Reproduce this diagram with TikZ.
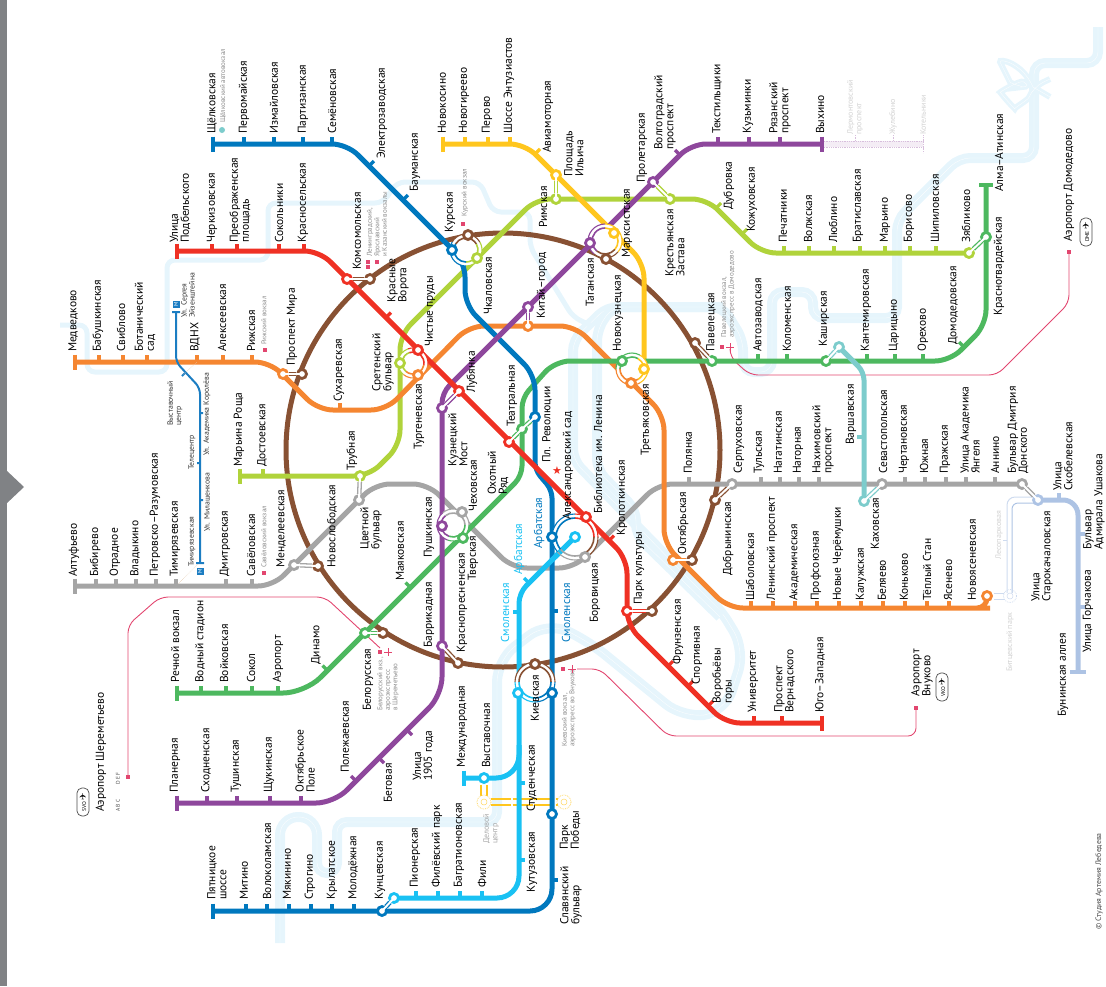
\documentclass[tikz,border=0pt]{standalone}
\usepackage{fontspec}
\setmainfont{PT Sans}
\newfontfamily\symfont{DejaVu Sans}
\usepackage{xcolor}
\definecolor{linered}{HTML}{EF3124}
\definecolor{lineblue}{HTML}{0078BE}
\definecolor{linecyan}{HTML}{19C1F3}
\definecolor{lineorange}{HTML}{F58631}
\definecolor{linegreen}{HTML}{4DB85F}
\definecolor{linepurple}{HTML}{8E479C}
\definecolor{lineyellow}{HTML}{FFC61E}
\definecolor{linelime}{HTML}{B0D33B}
\definecolor{linegray}{HTML}{A5A5A5}
\definecolor{linebrown}{HTML}{885133}
\definecolor{lineteal}{HTML}{7DCCCC}
\definecolor{linebuto}{HTML}{ADC3E4}
\definecolor{monoblue}{HTML}{1C7DC2}
\definecolor{riverblue}{HTML}{E6F5FC}
\definecolor{airpink}{HTML}{E2466F}
\definecolor{palegray}{HTML}{D2D2D2}
\definecolor{notegray}{HTML}{8C8C8C}
\definecolor{edgegray}{HTML}{808285}
\usepackage{tikz}
\usetikzlibrary{shapes.geometric, shapes.misc, positioning}
\tikzset{
    metro/.style = {line width=5pt, rounded corners=15pt},
    tickmark/.style = {line width=3.2pt},
    endbar/.style = {line width=4.4pt},
    stn/.style = {circle, draw=#1, fill=white, line width=2.8pt,
                  minimum size=9pt, inner sep=0pt},
    xferedge/.style = {draw=#1, line width=4.6pt},
    xfercore/.style = {draw=white, line width=2pt},
    river/.style = {draw=riverblue, line width=10pt, rounded corners=11pt,
                    postaction={draw=white, line width=0.4pt, opacity=0.8}},
    brook/.style = {draw=riverblue, line width=5pt, rounded corners=8pt},
    airline/.style = {draw=airpink, line width=0.9pt, rounded corners=8pt},
    stlabel/.style = {rotate=90, anchor=west, inner sep=0pt, align=left,
                      font=\fontsize{11.5}{11}\selectfont},
    notelabel/.style = {rotate=90, anchor=west, inner sep=0pt, align=left,
                        text=notegray, font=\fontsize{7}{7.5}\selectfont},
    monolabel/.style = {rotate=90, anchor=west, inner sep=0pt, align=left,
                        text=black!80, font=\fontsize{7.7}{8}\selectfont},
    palelabel/.style = {rotate=90, anchor=west, inner sep=0pt, align=left,
                        text=palegray, font=\fontsize{8}{8.5}\selectfont},
    railmark/.style = {fill=airpink, inner sep=0pt, minimum width=4pt, minimum height=3.5pt},
    planemark/.style = {cross out, draw=airpink, rotate=45, line width=0.8pt,
                        inner sep=0pt, minimum size=4.5pt},
    badge/.style = {rotate=90, draw=black!70, fill=white, rounded corners=5pt, line width=0.7pt,
                    inner sep=0pt, minimum width=28pt, minimum height=12pt,
                    font=\fontsize{5.5}{5.5}\selectfont},
    metrosq/.style = {rotate=90, fill=monoblue, text=white, inner sep=0pt, minimum size=7pt,
                      font=\fontsize{5.5}{5.5}\selectfont},
}
\begin{document}
\begin{tikzpicture}[x=1pt, y=-1pt]
  \useasboundingbox (0,0) rectangle (1106,986);
  % Page edge and arrow
  \fill[edgegray] (0,0) rectangle (7,986);
  \fill[edgegray] (6,470) -- (24,487) -- (6,504) -- cycle;
  % Rivers
  \draw[river] (1098,27) -- (1098,63) -- (1034,63) -- (1034,158) -- (959,158) -- (897,220)
        -- (897,318) -- (813,318) -- (813,292) -- (772,292) -- (772,372) -- (743,372)
        -- (743,340) -- (723,307) -- (607,307) -- (573,340) -- (573,460) -- (680,570)
        -- (722,612) [rounded corners=22pt] -- (745,650) -- (725,712) -- (683,718)
        -- (587,640) -- (547,622) -- (497,660) [rounded corners=10pt] -- (497,822)
        -- (337,822) -- (337,873) -- (317,873) [rounded corners=18pt] -- (317,817)
        -- (280,817) -- (280,943);
  \draw[river] (723,307) -- (612,307) -- (597,330) -- (597,470) -- (636,510) -- (636,535) -- (720,617);
  \draw[brook] (60,325) -- (87,325) -- (87,372) -- (167,372) -- (167,260) -- (268,260)
        -- (268,203) -- (383,203) -- (397,182) -- (480,182) -- (493,212) -- (530,212)
        -- (530,247) -- (573,317) -- (590,325);
  % Bow on the river
  \draw[river, line width=6pt] (1033,87) .. controls (1022,62) and (998,58) .. (1005,72)
        .. controls (1011,84) and (1025,87) .. (1033,87)
        .. controls (1020,80) and (1000,92) .. (1007,101)
        .. controls (1014,108) and (1028,100) .. (1033,87) -- (1050,79) (1033,87) -- (1050,97);
  % Airport lines
  \draw[airline] (128,777) -- (128,625) -- (160,597) -- (325,597) -- (380,648);
  \draw[airline] (1069,252) -- (1069,303) -- (997,375) -- (750,375) -- (730,357) -- (730,350);
  \draw[airline] (916,708) -- (916,736) -- (668,736) -- (600,669) -- (577,669);
  % Ring line
  \draw[line width=5pt, linebrown] (503,450) circle (217);
  % Lines under construction
  \fill[linepurple!10] (822,141) rectangle (923,147);
  \draw[linepurple!35, densely dotted, line width=0.8pt] (822,141) -- (923,141) (822,147) -- (923,147)
        (855,141) -- (855,135) (893,141) -- (893,135) (923,135) -- (923,153);
  \draw[linebuto!60, line width=1pt, rounded corners=8pt] (1037,497) -- (1007,497) -- (1007,593);
  \draw[linebuto, line width=1pt, rounded corners=6pt] (1037,503) -- (1012,503) -- (1012,593);
  \draw[linebuto!60, line width=1pt] (1007,540) -- (1003,540) (994,593) -- (1004,593) (994,599) -- (1004,599);
  \draw[linebuto!60, densely dotted, line width=0.8pt] (1010,596) circle (6.5);
  \draw[linebuto!60, line width=0.5pt] (1010,596) circle (3);
  \draw[lineyellow, line width=1.2pt] (481,785) -- (481,796) (487,785) -- (487,796);
  \draw[lineyellow, line width=1.3pt, dash pattern=on 20pt off 1.5pt] (491,799) -- (558,799) (491,805) -- (558,805);
  \draw[lineyellow!70, densely dotted, line width=0.8pt] (484,802) circle (7) (564,802) circle (7);
  \draw[lineyellow!70, line width=0.5pt] (484,802) circle (3) (564,802) circle (3);
  % Main lines
  \draw[metro, linegray] (75,586) -- (273,586) -- (375,484) -- (428,484) -- (512,568) -- (574,568) -- (658,484) -- (1022,484);
  \draw[metro, linelime] (240,476) -- (369,476) -- (400,445) -- (400,335) -- (536,199) -- (707,199) -- (761,253) -- (969,253);
  \draw[metro, lineorange] (75,362) -- (270,362) -- (318,410) -- (386,410) -- (469,326) -- (575,326) -- (664,415)
        -- (664,544) -- (728,608) -- (975,608) [rounded corners=10pt] -- (987,608) -- (987,596);
  \draw[metro, lineyellow] (443,144) -- (525,144) -- (644,263) -- (644,369);
  \draw[metro, linegreen] (177,693) [rounded corners=22pt] -- (305,693) [rounded corners=10pt] -- (522,476)
        -- (522,398) [rounded corners=15pt] -- (555,361) -- (950,361) -- (986,325) -- (986,185);
  \draw[metro, lineblue] (213,144) -- (347,144) -- (465,262) -- (465,305) -- (535,375)
        [rounded corners=8pt] -- (535,470) -- (552,490) [rounded corners=22pt] -- (552,911) -- (213,911);
  \draw[metro, linecyan] (394,898) [rounded corners=22pt] -- (519,898) [rounded corners=10pt] -- (519,593) -- (575,537);
  \draw[metro, linecyan] (464,778) [rounded corners=23pt] -- (519,778) -- (519,745);
  \draw[metro, linepurple] (177,803) [rounded corners=18pt] -- (334,803) -- (442,695) [rounded corners=10pt] -- (442,393) [rounded corners=15pt] -- (691,144) -- (822,144);
  \draw[metro, lineteal, rounded corners=8pt] (839,347) -- (864,372) -- (864,501);
  \draw[metro, linebuto] (1038,500) -- (1078,500) -- (1078,672);
  \draw[metro, linered] (177,251) -- (319.5,251) -- (627,558.5) -- (627,625) -- (725,723) -- (822,723);
  % Monorail
  \draw[monoblue, line width=2pt, rounded corners=6pt] (176,312) -- (176,362) -- (200,388) -- (200,563);
  \draw[monoblue, line width=2pt] (172,312) -- (180,312) (196,563) -- (204,563)
        (182,376) -- (185,373) (200,413) -- (203,413) (197,463) -- (200,463) (200,500) -- (203,500);
  \draw[brown!40, line width=0.5pt, densely dotted] (176,586) -- (198,564) (183,375) -- (197,362);
  % End bars
  \foreach \x/\y/\col in {213/144/lineblue, 177/251/linered, 75/362/lineorange, 75/586/linegray, 240/476/linelime,
        177/693/linegreen, 177/803/linepurple, 213/911/lineblue, 443/144/lineyellow, 822/144/linepurple,
        822/723/linered, 464/778/linecyan}
    \draw[endbar, \col] (\x,\y-7.5) -- (\x,\y+7.5);
  \draw[endbar, linegreen] (979,185) -- (993,185);
  \draw[endbar, linebuto] (1070,672) -- (1086,672);
  % Stations along rows: tick x / label x / name
  \foreach[count=\i] \tx/\lx/\stname in {244/244/Первомайская, 274/274/Измайловская, 303/303/Партизанская, 332/332/Семёновская, 213/212/Щёлковская}
    {\draw[tickmark, lineblue] (\tx,144) -- ++(0,-7);
     \node[stlabel] (blab\i) at (\lx,134) {\stname};}
  \foreach[count=\i] \tx/\lx/\stname in {177/180/Улица\\Подбельского, 212/212/Черкизовская, 237/240/Преображенская\\площадь, 279/279/Сокольники, 304/303/Красносельская}
    {\draw[tickmark, linered] (\tx,251) -- ++(0,-7);
     \node[stlabel] (rlab\i) at (\lx,243) {\stname};}
  \foreach[count=\i] \tx/\lx/\stname in {75/73/Медведково, 99/98/Бабушкинская, 123/121/Свиблово, 147/145/Ботанический\\сад, 197/195/ВДНХ, 223/222/Алексеевская, 252/251/Рижская}
    {\draw[tickmark, lineorange] (\tx,362) -- ++(0,-7);
     \node[stlabel] (olab\i) at (\lx,352) {\stname};}
  \foreach[count=\i] \tx/\lx/\stname in {75/74/Алтуфьево, 96/95/Бибирево, 116/115/Отрадное, 136/135/Владыкино, 156/155/Петровско–Разумовская, 176/175/Тимирязевская, 226/225/Дмитровская, 252/251/Савёловская}
    {\draw[tickmark, linegray] (\tx,586) -- ++(0,-7);
     \node[stlabel] (glab\i) at (\lx,577) {\stname};}
  \foreach[count=\i] \tx/\lx/\stname in {177/175/Речной вокзал, 201/200/Водный стадион, 226/224/Войковская, 252/251/Сокол, 278/278/Аэропорт}
    {\draw[tickmark, linegreen] (\tx,693) -- ++(0,-7);
     \node[stlabel] (nlab\i) at (\lx,683) {\stname};}
  \foreach[count=\i] \tx/\lx/\stname in {177/175/Планерная, 207/206/Сходненская, 237/236/Тушинская, 270/269/Щукинская, 301/305/Октябрьское\\Поле}
    {\draw[tickmark, linepurple] (\tx,803) -- ++(0,-7);
     \node[stlabel] (plab\i) at (\lx,793) {\stname};}
  \foreach[count=\i] \tx/\lx/\stname in {213/217/Пятницкое\\шоссе, 246/244/Митино, 267/267/Волоколамская, 289/287/Мякинино, 311/310/Строгино, 332/332/Крылатское, 354/353/Молодёжная}
    {\draw[tickmark, lineblue] (\tx,911) -- ++(0,-7);
     \node[stlabel] (blow\i) at (\lx,900) {\stname};}
  \foreach[count=\i] \tx/\lx/\stname in {416/415/Пионерская, 438/437/Филёвский парк, 460/459/Багратионовская, 482/482/Фили}
    {\draw[tickmark, linecyan] (\tx,898) -- ++(0,-7);
     \node[stlabel] (clab\i) at (\lx,888) {\stname};}
  \foreach[count=\i] \tx/\lx/\stname in {443/442/Новокосино, 465/464/Новогиреево, 488/487/Перово, 510/509/Шоссе Энтузиастов}
    {\draw[tickmark, lineyellow] (\tx,144) -- ++(0,-7);
     \node[stlabel] (ylab\i) at (\lx,134) {\stname};}
  \foreach[count=\i] \tx/\lx/\stname in {718/717/Текстильщики, 749/748/Кузьминки, 780/780/Рязанский\\проспект, 822/820/Выхино}
    {\draw[tickmark, linepurple] (\tx,144) -- ++(0,-7);
     \node[stlabel] (pup\i) at (\lx,134) {\stname};}
  \foreach[count=\i] \tx/\lx/\stname in {784/783/Печатники, 809/808/Волжская, 834/833/Люблино, 860/858/Братиславская, 885/885/Марьино, 910/909/Борисово, 936/935/Шипиловская}
    {\draw[tickmark, linelime] (\tx,253) -- ++(0,-7);
     \node[stlabel] (llab\i) at (\lx,243) {\stname};}
  \foreach[count=\i] \tx/\lx/\stname in {758/758/Автозаводская, 787/787/Коломенская, 867/866/Кантемировская, 895/894/Царицыно, 923/923/Орехово}
    {\draw[tickmark, linegreen] (\tx,361) -- ++(0,-7);
     \node[stlabel] (nup\i) at (\lx,352) {\stname};}
  \foreach[count=\i] \tx/\lx/\stname in {689/688/Полянка, 761/759/Тульская, 780/778/Нагатинская, 799/798/Нагорная, 819/823/Нахимовский\\проспект, 905/904/Чертановская, 925/924/Южная, 946/945/Пражская, 966/970/Улица Академика\\Янгеля, 995/995/Аннино}
    {\draw[tickmark, linegray] (\tx,484) -- ++(0,-7);
     \node[stlabel] (gup\i) at (\lx,474) {\stname};}
  \foreach[count=\i] \tx/\lx/\stname in {751/750/Шаболовская, 773/772/Ленинский проспект, 795/794/Академическая, 817/816/Профсоюзная, 839/838/Новые Черёмушки, 861/861/Калужская, 883/882/Беляево, 905/904/Коньково, 927/927/Тёплый Стан, 949/948/Ясенево}
    {\draw[tickmark, lineorange] (\tx,608) -- ++(0,-7);
     \node[stlabel] (olow\i) at (\lx,601) {\stname};}
  \foreach[count=\i] \tx/\lx/\stname in {754/753/Университет, 782/785/Проспект\\Вернадского, 822/820/Юго–Западная}
    {\draw[tickmark, linered] (\tx,723) -- ++(0,-7);
     \node[stlabel] (rlow\i) at (\lx,713) {\stname};}
  % Diagonal and side ticks: x / y / dx / dy / colour
  \foreach \x/\y/\dx/\dy/\col in {369/166/5/-5/lineblue, 403/200/5/-5/lineblue, 386/317.5/5/-5/linered, 609/540.5/5/-5/linered,
        668/666/5/-5/linered, 688/686/5/-5/linered, 708/706/5/-5/linered, 535/154/5/-5/lineyellow,
        716/208/5/-5/linelime, 742/234/5/-5/linelime, 410.5/587.5/-5/-5/linegreen, 327.5/670.5/-5/-5/linegreen,
        964/347/-5/-5/linegreen, 356/781/-5/-5/linepurple, 379/758/5/5/linepurple, 407/730/5/5/linepurple,
        680/155/-5/-5/linepurple, 529/583/-5/-5/linecyan, 519/612/-6/0/linecyan, 519/783/6/0/linecyan,
        519/860/6/0/linecyan, 552/611/6/0/lineblue, 552/880/6/0/lineblue, 864/437/-7/0/lineteal,
        1078/534/7/0/linebuto, 1078/607/7/0/linebuto, 1059/500/0/-7/linebuto, 340/410/0/-7/lineorange, 263/476/0/-7/linelime}
    \draw[tickmark, \col] (\x,\y) -- ++(\dx,\dy);
  % Hubs: centre / radius
  \foreach \cx/\cy/\cr in {466/250/16, 605/241/17, 413/363/15, 453/525/16, 575/537/23, 632/369/16, 535/682/20}
    {\fill[white] (\cx,\cy) circle (\cr);}
  \draw[metro, linecyan] (555,557) -- (575,537);
  % Hub outlines: centre / radius / colour / from / to
  \foreach \cx/\cy/\cr/\col/\a/\b in {466/250/16/linebrown/210/330, 466/250/16/linelime/330/450, 466/250/16/lineblue/90/210,
        605/241/17/linebrown/40/130, 605/241/17/lineyellow/270/400, 605/241/17/linepurple/130/270,
        413/363/15/linered/250/370, 413/363/15/lineorange/10/130, 413/363/15/linelime/130/250,
        453/525/16/linegray/230/360, 453/525/16/linegreen/0/110, 453/525/16/linepurple/110/230,
        575/537/23/linered/270/360, 575/537/23/linebrown/0/60, 575/537/23/linegray/60/140, 575/537/23/lineblue/140/270,
        632/369/16/linegreen/180/300, 632/369/16/lineyellow/300/420, 632/369/16/lineorange/60/180,
        535/682/20/linebrown/180/360, 535/682/20/lineblue/0/90, 535/682/20/linecyan/90/180}
    {\draw[\col, line width=1.1pt] (\cx,\cy) ++(\a:\cr) arc (\a:\b:\cr);
     \draw[\col, line width=1.6pt] (\cx,\cy) ++(\a:\cr-4) arc (\a:\b:\cr-4);}
  % Stations
  \foreach \nm/\x/\y/\col in {komsR/347/279/linered, komsB/370/279/linebrown, mirO/283/374/lineorange, mirB/302/374/linebrown,
        mendG/294/565/linegray, mendB/318/566/linebrown, cvetG/359/500/linegray, trubL/360/476/linelime,
        belN/365/633/linegreen, belB/383/633/linebrown, presB/458/663/linebrown, barrP/442/646/linepurple,
        kuzP/442/408/linepurple, lubR/459/391/linered, ohotR/509/442/linered, teatN/522/429/linegreen, revB/535/417/lineblue,
        kitP/528/307/linepurple, kitO/528/326/lineorange, ilyY/556/175/lineyellow, rimL/556/199/linelime,
        proP/653/182/linepurple, kreL/670/199/linelime, pavB/695/343/linebrown, pavN/712/361/linegreen,
        kasN/826/361/linegreen, kasT/839/347/lineteal, dobB/715/500/linebrown, serG/732/484/linegray,
        oktO/673/560/lineorange, oktB/692/560/linebrown, parR/627/611/linered, parB/652/611/linebrown,
        kahT/864/501/lineteal, sevG/882/484/linegray, kraN/986/237/linegreen, zyaL/969/253/linelime,
        bddG/1022/484/linegray, staB/1038/500/linebuto, kunB/382/911/lineblue, kunC/394/898/linecyan,
        kurB/452/250/lineblue, kurK/468/235/linebrown, kurL/477/258/linelime,
        tagP/590/243/linepurple, tagK/606/259/linebrown, tagY/614/233/lineyellow,
        chiR/418/350/linered, chiL/400/363/linelime, chiO/418/375/lineorange,
        pusP/442/526/linepurple, pusG/462/512/linegray, pusN/463/538/linegreen,
        bibR/586/517/linered, bibC/575/537/linecyan, bibB/552/537/lineblue, bibG/585/557/linegray,
        nkuN/622/361/linegreen, nkuY/644/369/lineyellow, nkuO/631/383/lineorange,
        kieK/535/664/linebrown, kieC/518/693/linecyan, kieB/552/693/lineblue,
        vysC/484/778/linecyan, pobB/552/814/lineblue, novO/987/596/lineorange}
    \node[stn=\col] (\nm) at (\x,\y) {};
  % Transfers
  \foreach \a/\b/\col in {komsR/komsB/linebrown, mirO/mirB/linebrown, mendG/mendB/linegray, cvetG/trubL/linegray,
        belN/belB/linegreen, presB/barrP/linebrown, kuzP/lubR/linepurple, ohotR/teatN/linegreen, teatN/revB/linegreen,
        kitP/kitO/linepurple, ilyY/rimL/linelime, proP/kreL/linelime, pavB/pavN/linebrown, kasN/kasT/lineteal,
        dobB/serG/linebrown, oktO/oktB/lineorange, parR/parB/linered, kahT/sevG/lineteal, kraN/zyaL/linegreen,
        bddG/staB/linegray, kunB/kunC/lineblue}
    {\draw[xferedge=\col] (\a) -- (\b);
     \draw[xfercore] (\a.center) -- (\b.center);}
  % Single labels: x / y / name
  \foreach[count=\i] \x/\y/\stname in {382/159/Электрозаводская, 415/192/Бауманская, 357/270/Комсомольская, 398/303/Красные\\Ворота,
        292/366/Проспект Мира, 339/402/Сухаревская, 383/392/Сретенский\\бульвар, 430/347/Чистые пруды, 419/450/Тургеневская,
        352/471/Трубная, 262/467/Достоевская, 239/467/Марьина Роща, 371/550/Цветной\\бульвар, 400/581/Маяковская,
        332/568/Новослободская, 281/568/Менделеевская, 316/665/Динамо, 368/711/Белорусская, 462/653/Краснопресненская,
        473/581/Тверская, 429/558/Пушкинская, 429/648/Баррикадная, 458/467/Кузнецкий\\Мост, 473/512/Чеховская,
        498/495/Охотный\\Ряд, 472/393/Лубянка, 512/427/Театральная, 547/463/Пл. Революции, 568/520/Александровский сад,
        598/514/Библиотека им. Ленина, 622/536/Кропоткинская, 595/623/Боровицкая, 639/605/Парк культуры,
        683/555/Октябрьская, 728/576/Добрынинская, 646/456/Третьяковская, 618/352/Новокузнецкая, 711/352/Павелецкая,
        824/347/Каширская, 953/345/Домодедовская, 999/316/Красногвардейская, 999/192/Алма–Атинская, 966/243/Зябликово,
        752/232/Кожуховская, 729/210/Дубровка, 675/277/Крестьянская\\Застава, 627/258/Марксистская, 590/307/Таганская,
        642/183/Пролетарская, 665/150/Волгоградский\\проспект, 548/153/Авиамоторная, 574/177/Площадь\\Ильича, 543/228/Римская,
        450/233/Курская, 488/315/Чкаловская, 542/319/Китай–город, 739/474/Серпуховская, 851/445/Варшавская, 883/474/Севастопольская,
        1018/474/Бульвар Дмитрия\\Донского, 875/550/Каховская, 1063/491/Улица\\Скобелевская, 1094/550/Бульвар\\Адмирала Ушакова,
        1042/602/Улица\\Старокачаловская, 1088/653/Улица Горчакова, 1063/717/Бунинская аллея, 972/601/Новоясеневская,
        678/665/Фрунзенская, 697/685/Спортивная, 723/704/Воробьёвы\\горы, 922/697/Аэропорт\\Внуково, 1069/242/Аэропорт Домодедово,
        101/812/Аэропорт Шереметьево, 345/773/Полежаевская, 388/803/Беговая, 423/781/Улица\\1905 года, 462/768/Международная,
        486/768/Выставочная, 532/812/Студенческая, 532/893/Кутузовская, 570/850/Парк\\Победы, 571/925/Славянский\\бульвар,
        535/722/Киевская, 380/900/Кунцевская}
    \node[stlabel] (solo\i) at (\x,\y) {\stname};
  % Blue-coloured labels
  \foreach[count=\i] \x/\y/\stname/\col in {539/549/Арбатская/lineblue, 519/575/Арбатская/linecyan, 505/643/Смоленская/linecyan, 566/643/Смоленская/lineblue}
    \node[stlabel, text=\col] (arb\i) at (\x,\y) {\stname};
  % Small notes
  \node[notelabel] (noteshch) at (223,123) {Щёлковский автовокзал};
  \node[notelabel] (notekoms) at (377,257) {Ленинградский,\\Ярославский\\и Казанский вокзалы};
  \node[notelabel] (noterig) at (264,345) {Рижский вокзал};
  \node[notelabel] (notesav) at (264,568) {Савёловский вокзал};
  \node[notelabel] (notekur) at (465,217) {Курский вокзал};
  \node[notelabel] (notepav) at (728,338) {Павелецкий вокзал,\\аэроэкспресс в Домодедово};
  \node[notelabel] (notebel) at (388,711) {Белорусский вкз.,\\аэроэкспресс\\в Шереметьево};
  \node[notelabel] (notekie) at (569,747) {Киевский вокзал,\\аэроэкспресс во Внуково};
  \node[notelabel, text=black!70, font=\fontsize{7.8}{8}\selectfont] (copyr) at (1099,930) {© Студия Артемия Лебедева};
  \node[notelabel, text=black!70, font=\fontsize{5.5}{5.5}\selectfont] (termabc) at (118,812) {A B C};
  \node[notelabel, text=black!70, font=\fontsize{5.5}{5.5}\selectfont] (termdef) at (118,785) {D E F};
  % Monorail labels
  \node[monolabel] (monotim) at (192,567) {Тимирязевская};
  \node[monolabel] (monomil) at (207,532) {Ул. Милашенкова};
  \node[monolabel] (monotel) at (192,470) {Телецентр};
  \node[monolabel] (monokor) at (207,456) {Ул. Академика Королёва};
  \node[monolabel] (monovys) at (175,426) {Выставочный\\центр};
  \node[monolabel] (monoeiz) at (188,318) {Ул. Сергея\\Эйзенштейна};
  \node[metrosq] (sqnorth) at (176,304) {M};
  \node[metrosq] (sqsouth) at (200,571) {M};
  % Future stations
  \node[palelabel] (futlerm) at (855,135) {Лермонтовский\\проспект};
  \node[palelabel] (futzhul) at (893,135) {Жулебино};
  \node[palelabel] (futkot) at (923,135) {Котельники};
  \node[palelabel] (futles) at (999,560) {Лесопарковая};
  \node[palelabel] (futbit) at (1010,672) {Битцевский парк};
  \node[palelabel, text=black!35] (futdel) at (491,844) {Деловой\\центр};
  % Rail and plane marks
  \foreach[count=\i] \x/\y in {368/267, 368/262, 377/262, 265/350, 264/573, 463/224, 722/347, 380/652, 563/669, 128/777, 916/708, 1069/252}
    \node[railmark] (rail\i) at (\x,\y) {};
  \foreach[count=\i] \x/\y in {730/347, 388/652, 572/669}
    \node[planemark] (plane\i) at (\x,\y) {};
  \node[circle, fill=lineteal, inner sep=0pt, minimum size=6pt] (busmark) at (222,130) {};
  \node[text=linered, inner sep=0pt, font=\symfont\fontsize{11}{11}\selectfont] (capstar) at (557,471) {★};
  % Airport badges
  \node[badge] (badgesvo) at (83,802) {SVO {\symfont\fontsize{9}{9}\selectfont ✈}};
  \node[badge] (badgevko) at (942,687) {VKO {\symfont\fontsize{9}{9}\selectfont ✈}};
  \node[badge] (badgedme) at (1086,232) {DME {\symfont\fontsize{9}{9}\selectfont ✈}};
\end{tikzpicture}
\end{document}
